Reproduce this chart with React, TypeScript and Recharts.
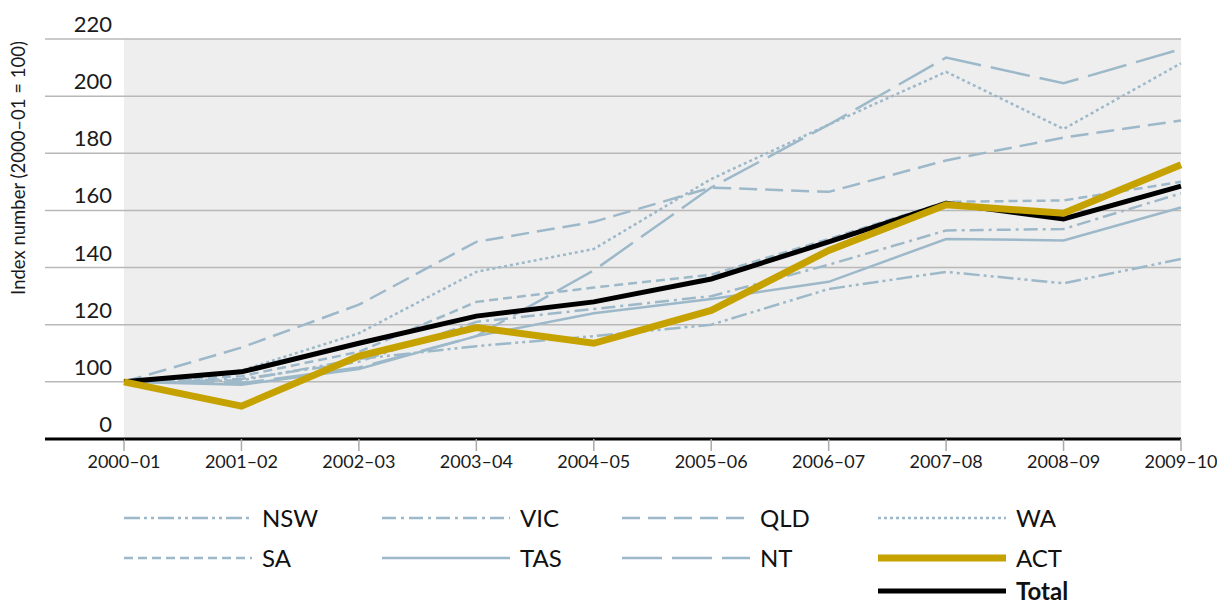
import { LineChart, Line, XAxis, YAxis, CartesianGrid, Legend } from "recharts";

// financial years on the x axis
const years = ["2000–01", "2001–02", "2002–03", "2003–04", "2004–05", "2005–06", "2006–07", "2007–08", "2008–09", "2009–10"];

// index values (2000-01 = 100)
const nsw = [100, 100.5, 108, 112.5, 116, 120, 132.5, 138.5, 134.5, 143];
const vic = [100, 101, 107, 121, 125.5, 130, 141, 153, 153.5, 166];
const qld = [100, 112, 127, 149, 156, 168, 166.5, 177.5, 185.5, 191.5];
const wa = [100, 104, 117, 138.5, 146.5, 171, 190, 208.5, 188.5, 211.5];
const sa = [100, 102, 110.5, 128, 133, 137.5, 150, 163, 163.5, 170];
const tas = [100, 99, 104.5, 116, 124, 129, 135, 150, 149.5, 161];
const nt = [100, 99.5, 105, 116, 139, 168, 190, 213.5, 204.5, 216.5];
const act = [100, 91.5, 109, 119, 113.5, 125, 146, 162, 159, 176];
const total = [100, 103.5, 113.5, 123, 128, 136, 149, 162.5, 157, 168.5];

// 80 sits on the axis and is shown as "0" (broken axis)
const yTicks = [80, 100, 120, 140, 160, 180, 200, 220];

const STATE = "#9db9c9";
const FONT = "Lato, 'Open Sans', sans-serif";

const series = [
  { key: "NSW", values: nsw, color: STATE, width: 2.5, dash: "16 4 3 4 3 4" },
  { key: "VIC", values: vic, color: STATE, width: 2.5, dash: "14 5 3 5" },
  { key: "QLD", values: qld, color: STATE, width: 2.5, dash: "18 8" },
  { key: "WA", values: wa, color: STATE, width: 2.5, dash: "3 3" },
  { key: "SA", values: sa, color: STATE, width: 2.5, dash: "9 5" },
  { key: "TAS", values: tas, color: STATE, width: 2.5, dash: undefined },
  { key: "NT", values: nt, color: STATE, width: 2.5, dash: "40 10" },
  { key: "Total", values: total, color: "#000000", width: 5, dash: undefined },
  { key: "ACT", values: act, color: "#c6a200", width: 7, dash: undefined },
];

const data = years.map((y, i) => {
  const row: any = { year: y };
  series.forEach((s) => (row[s.key] = s.values[i]));
  return row;
});

// legend grid: rows of series keys (null = empty cell)
const legendRows = [
  ["NSW", "VIC", "QLD", "WA"],
  ["SA", "TAS", "NT", "ACT"],
  [null, null, null, "Total"],
];
const legendColX = [116, 374, 614, 870];
const legendRowY = [39, 79, 112];

const YTick = (props: any) => {
  const { y, payload } = props;
  const base = payload.value === 80;
  return (
    <g>
      <line x1={37} x2={116} y1={y} y2={y} stroke={base ? "#000" : "#b8b8b8"} strokeWidth={base ? 3 : 1.5} />
      <text x={104} y={y - 7} textAnchor="end" fontSize={22} fill="#1a1a1a" fontFamily={FONT}>
        {base ? "0" : payload.value}
      </text>
    </g>
  );
};

const LegendBox = () => (
  <div style={{ position: "relative", width: 1217, height: 120, fontFamily: FONT }}>
    {legendRows.map((row, r) =>
      row.map((k, c) => {
        if (!k) return null;
        const s = series.find((q) => q.key === k)!;
        return (
          <div
            key={k}
            style={{
              position: "absolute",
              left: legendColX[c],
              top: legendRowY[r] - 12,
              height: 24,
              display: "flex",
              alignItems: "center",
            }}
          >
            <svg width={128} height={10}>
              <line x1={0} x2={128} y1={5} y2={5} stroke={s.color} strokeWidth={s.width} strokeDasharray={s.dash} />
            </svg>
            <span
              style={{
                marginLeft: 10,
                fontSize: 24,
                lineHeight: 1,
                color: "#111",
                fontWeight: k === "Total" ? 700 : 400,
              }}
            >
              {k}
            </span>
          </div>
        );
      })
    )}
  </div>
);

export default function App() {
  return (
    <LineChart
      width={1217}
      height={596}
      data={data}
      margin={{ top: 31, right: 44, left: 0, bottom: 5 }}
      style={{ overflow: "visible" }}
    >
      <CartesianGrid vertical={false} fill="#eeeeee" stroke="#b8b8b8" strokeWidth={1.5} />
      <XAxis
        dataKey="year"
        height={40}
        axisLine={{ stroke: "#000", strokeWidth: 3 }}
        tickLine={{ stroke: "#aaaaaa", strokeWidth: 1.5 }}
        tickSize={12}
        tickMargin={4}
        tick={{ fontSize: 18, fill: "#1a1a1a", fontFamily: FONT }}
        interval={0}
      />
      <YAxis
        domain={[80, 220]}
        ticks={yTicks}
        width={116}
        axisLine={false}
        tickLine={false}
        tick={<YTick />}
        label={{
          content: () => (
            <text
              x={10}
              y={160}
              transform="rotate(-90, 10, 160)"
              textAnchor="middle"
              dominantBaseline="central"
              fontSize={18.5}
              fill="#1a1a1a"
              fontFamily={FONT}
            >
              Index number (2000–01 = 100)
            </text>
          ),
        }}
      />
      {series.map((s) => (
        <Line
          key={s.key}
          dataKey={s.key}
          type="linear"
          stroke={s.color}
          strokeWidth={s.width}
          strokeDasharray={s.dash}
          dot={false}
          activeDot={false}
          isAnimationActive={false}
        />
      ))}
      <Legend verticalAlign="bottom" content={<LegendBox />} wrapperStyle={{ left: 0, width: 1217 }} />
    </LineChart>
  );
}
